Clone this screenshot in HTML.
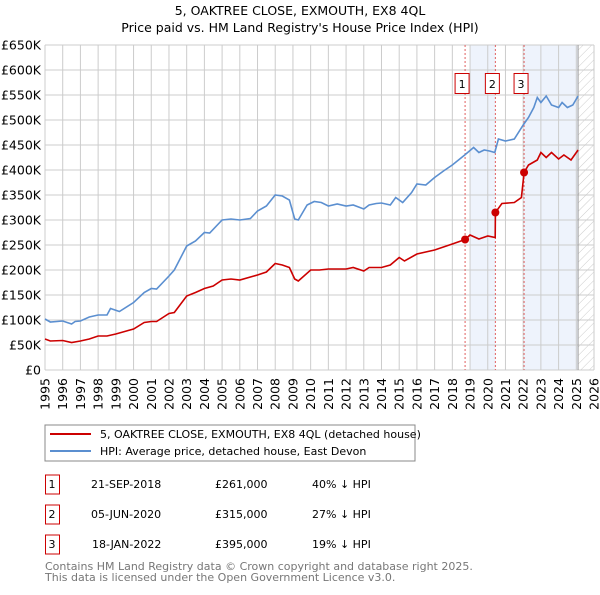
<!DOCTYPE html>
<html><head><meta charset="utf-8"><style>
body{margin:0;background:#fff;font-family:"Liberation Sans","DejaVu Sans",sans-serif;}
svg text{font-family:"DejaVu Sans","Liberation Sans",sans-serif;}
</style></head><body>
<svg id="c" width="600" height="590" xmlns="http://www.w3.org/2000/svg">
<defs><pattern id="h" width="6" height="6" patternUnits="userSpaceOnUse" patternTransform="rotate(45)"><line x1="0" y1="0" x2="0" y2="6" stroke="#ccc" stroke-width="1"/></pattern></defs>
<text x="300" y="15" text-anchor="middle" font-size="12.5">5, OAKTREE CLOSE, EXMOUTH, EX8 4QL</text>
<text x="300" y="32" text-anchor="middle" font-size="12.5">Price paid vs. HM Land Registry's House Price Index (HPI)</text>
<g id="plot"></g>
<rect x="45" y="425" width="370" height="36" fill="#fff" stroke="#888"/>
<line x1="50" y1="434" x2="91" y2="434" stroke="#cc0000" stroke-width="2"/>
<text x="100" y="438" font-size="11">5, OAKTREE CLOSE, EXMOUTH, EX8 4QL (detached house)</text>
<line x1="50" y1="451" x2="91" y2="451" stroke="#5b8fd0" stroke-width="2"/>
<text x="100" y="455" font-size="11">HPI: Average price, detached house, East Devon</text>
<g font-size="11">
<rect x="45.5" y="475" width="14" height="19" fill="none" stroke="#cc0000"/><text x="52" y="488" text-anchor="middle">1</text>
<text x="91" y="488">21-SEP-2018</text><text x="215" y="488">£261,000</text><text x="312" y="488">40% ↓ HPI</text>
<rect x="45.5" y="505" width="14" height="19" fill="none" stroke="#cc0000"/><text x="52" y="518" text-anchor="middle">2</text>
<text x="91" y="518">05-JUN-2020</text><text x="215" y="518">£315,000</text><text x="312" y="518">27% ↓ HPI</text>
<rect x="45.5" y="535" width="14" height="19" fill="none" stroke="#cc0000"/><text x="52" y="548" text-anchor="middle">3</text>
<text x="92" y="548">18-JAN-2022</text><text x="215" y="548">£395,000</text><text x="312" y="548">19% ↓ HPI</text>
</g>
<text x="45" y="570" font-size="11" fill="#777">Contains HM Land Registry data © Crown copyright and database right 2025.</text>
<text x="45" y="581" font-size="11" fill="#777">This data is licensed under the Open Government Licence v3.0.</text>
</svg>
<script>
const yTicks=[0,50,100,150,200,250,300,350,400,450,500,550,600,650];
const yLabels=["£0","£50K","£100K","£150K","£200K","£250K","£300K","£350K","£400K","£450K","£500K","£550K","£600K","£650K"];
const years=[1995,1996,1997,1998,1999,2000,2001,2002,2003,2004,2005,2006,2007,2008,2009,2010,2011,2012,2013,2014,2015,2016,2017,2018,2019,2020,2021,2022,2023,2024,2025,2026];
const hpiT=[1995,1995.3,1996,1996.5,1996.7,1997,1997.5,1998,1998.5,1998.7,1999.2,2000,2000.6,2001,2001.3,2002,2002.3,2003,2003.5,2004,2004.3,2005,2005.5,2006,2006.6,2007,2007.5,2008,2008.4,2008.8,2009.1,2009.3,2009.8,2010.2,2010.6,2011,2011.5,2012,2012.4,2013,2013.3,2013.7,2014,2014.5,2014.8,2015.2,2015.7,2016,2016.5,2017,2017.5,2018,2018.7,2019.2,2019.5,2019.8,2020.1,2020.4,2020.6,2021,2021.5,2022,2022.3,2022.6,2022.8,2023,2023.3,2023.6,2024,2024.2,2024.5,2024.8,2025.1];
const hpiV=[102,96,98,92,97,98,106,110,110,123,117,135,155,163,162,188,200,248,258,275,274,300,302,300,303,318,328,350,348,340,302,300,330,337,335,328,332,328,330,322,330,333,334,330,345,335,355,372,370,385,398,410,430,445,435,440,438,435,462,458,462,490,505,525,545,535,548,530,525,535,525,530,548];
const redT=[1995,1995.3,1996,1996.5,1997,1997.5,1998,1998.5,1999,2000,2000.6,2001,2001.3,2002,2002.3,2003,2003.5,2004,2004.5,2005,2005.5,2006,2007,2007.5,2008,2008.4,2008.8,2009.1,2009.3,2010,2010.5,2011,2012,2012.4,2013,2013.3,2014,2014.5,2015,2015.3,2016,2017,2018,2018.72,2019,2019.5,2020,2020.42,2020.43,2020.8,2021.5,2021.9,2022.05,2022.3,2022.8,2023,2023.3,2023.6,2024,2024.3,2024.7,2025.1];
const redV=[62,58,59,55,58,62,68,68,72,82,95,97,97,113,115,148,155,163,168,180,182,180,190,196,213,210,205,182,178,200,200,202,202,205,198,205,205,210,225,218,232,240,252,261,270,262,268,265,315,333,335,345,395,410,420,435,425,435,422,430,420,440];
const sales=[[2018.72,261],[2020.43,315],[2022.05,395]];
const X=t=>45+(t-1995)*17.71, Y=v=>370-v*0.5;
const ns="http://www.w3.org/2000/svg", g=document.getElementById('plot');
function mk(tag,attrs,name,parent){const e=document.createElementNS(ns,tag);for(const k in attrs)e.setAttribute(k,attrs[k]);


(parent||g).appendChild(e);return e;}
mk('rect',{x:X(2019),y:Y(650),width:X(2020.43)-X(2019),height:325,fill:'#eef3fc'},'shade-band-1');
mk('rect',{x:X(2022.05),y:Y(650),width:X(2025.1)-X(2022.05),height:325,fill:'#eef3fc'},'shade-band-2');
mk('rect',{x:X(2025.1),y:Y(650),width:X(2026)-X(2025.1),height:325,fill:'url(#h)'},'forecast-hatch');
yTicks.forEach((v,i)=>{mk('line',{x1:45,x2:X(2026),y1:Y(v),y2:Y(v),stroke:'#ccc'},'y-gridline');
const t=mk('text',{x:41,y:Y(v)+4.5,'text-anchor':'end','font-size':12.5},'y-tick-label');t.textContent=yLabels[i];});
years.forEach(y=>{mk('line',{x1:X(y),x2:X(y),y1:Y(650),y2:Y(0),stroke:'#ccc'},'x-gridline');
const t=mk('text',{x:0,y:0,'text-anchor':'end','font-size':12.5,transform:`translate(${X(y)+4.5},378) rotate(-90)`},'x-tick-label');t.textContent=y;});
mk('line',{x1:X(2025.1),x2:X(2025.1),y1:Y(650),y2:Y(0),stroke:'#999'},'data-end-line');
sales.forEach((s,i)=>{mk('line',{x1:X(s[0]),x2:X(s[0]),y1:Y(650),y2:Y(0),stroke:'#e06060','stroke-dasharray':'2,2'},'sale-marker-line');
mk('rect',{x:X(s[0])-10,y:73.5,width:14,height:20,fill:'#fff',stroke:'#cc0000'},'sale-label-box');
const t=mk('text',{x:X(s[0])-3,y:88,'text-anchor':'middle','font-size':11},'sale-label');t.textContent=i+1;});
const path=(T,V)=>T.map((t,i)=>(i?'L':'M')+X(t).toFixed(1)+','+Y(V[i]).toFixed(1)).join('');
mk('path',{d:path(hpiT,hpiV),fill:'none',stroke:'#5b8fd0','stroke-width':1.6},'hpi-line');
mk('path',{d:path(redT,redV),fill:'none',stroke:'#cc0000','stroke-width':1.6},'property-price-line');
sales.forEach(s=>mk('circle',{cx:X(s[0]),cy:Y(s[1]),r:4,fill:'#cc0000'},'sale-point'));
</script>
</body></html>
